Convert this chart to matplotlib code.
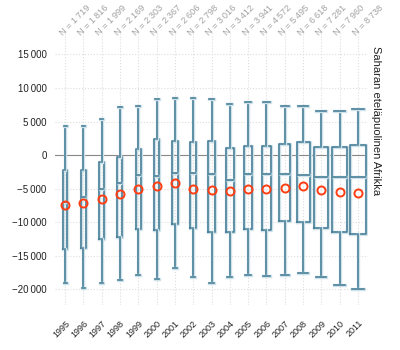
import numpy as np
import matplotlib.pyplot as plt
import matplotlib.patheffects as pe
from matplotlib.ticker import FuncFormatter

plt.rcParams['font.family'] = ['Liberation Sans', 'DejaVu Sans']

years = [1995, 1996, 1997, 1998, 1999, 2000, 2001, 2002, 2003,
         2004, 2005, 2006, 2007, 2008, 2009, 2010, 2011]
n_obs = [1719, 1816, 1999, 2169, 2303, 2367, 2606, 2798, 3016,
         3412, 3941, 4572, 5495, 6618, 7281, 7960, 8738]
whis_hi = [4300, 4300, 5400, 7100, 7300, 8350, 8450, 8500, 8300,
           7650, 7950, 7950, 7300, 7300, 6600, 6600, 6800]
q3 = [-2240, -2240, -1100, -250, 850, 2340, 2090, 2000, 2090,
      1090, 1390, 1390, 1640, 2000, 1240, 1240, 1490]
medians = [-7000, -6200, -5000, -4200, -3000, -3130, -2600, -2700, -2880,
           -3780, -2830, -2830, -2830, -3000, -3230, -3230, -3230]
means = [-7460, -7200, -6550, -5800, -5100, -4600, -4100, -5100, -5200,
         -5360, -5000, -5100, -4870, -4670, -5170, -5500, -5660]
q1 = [-14000, -13900, -12500, -12150, -11000, -11200, -10200, -10800, -11500,
      -11400, -11000, -11200, -9800, -10000, -10800, -11400, -11700]
whis_lo = [-19000, -19800, -19000, -18600, -17900, -18400, -16800, -18100, -19100,
           -18100, -17900, -18000, -17800, -17500, -18100, -19400, -19900]
region = 'Saharan eteläpuolinen Afrikka'

box_color = '#4a8199'
halo = [pe.Stroke(linewidth=2.4, foreground='#cfe1e9'), pe.Normal()]

fig = plt.figure(figsize=(4, 3.5), dpi=100)
ax = fig.add_axes([0.1375, 0.129, 0.7825, 0.777])

pos = np.arange(len(years))
stats = []
for i in range(len(years)):
    stats.append(dict(whislo=whis_lo[i], q1=q1[i], med=medians[i], q3=q3[i],
                      whishi=whis_hi[i], mean=means[i], fliers=[]))
widths = 0.9 * (np.array(n_obs) / max(n_obs)) ** 0.85
capw = widths * 0.72

ax.axhline(0, color='#888888', lw=0.8, zorder=1)
bp = ax.bxp(stats, positions=pos, widths=widths, capwidths=capw, showmeans=True,
            showfliers=False, patch_artist=False,
            boxprops=dict(color=box_color, lw=1.2),
            medianprops=dict(color=box_color, lw=1.2),
            whiskerprops=dict(color=box_color, lw=1.2),
            capprops=dict(color=box_color, lw=1.2),
            meanprops=dict(marker='o', markerfacecolor='none', markeredgecolor='#ff3d12',
                           markeredgewidth=1.4, markersize=5.8))
for key in ['boxes', 'medians', 'whiskers', 'caps']:
    for art in bp[key]:
        art.set_path_effects(halo)
        art.set_zorder(3)
for art in bp['means']:
    art.set_zorder(4)

ax.set_xlim(-0.55, len(years) - 0.45)
ax.set_ylim(-22300, 18200)
ax.set_yticks(np.arange(-20000, 15001, 5000))
ax.yaxis.set_major_formatter(FuncFormatter(
    lambda v, p: ('\u2212' if v < 0 else '') + f'{abs(int(v)):,}'.replace(',', '\u2009')))
ax.set_xticks(pos)
ax.set_xticklabels([str(y) for y in years], rotation=45, ha='right',
                   rotation_mode='anchor', fontsize=6.5, color='#222222')
ax.tick_params(axis='y', labelsize=7, colors='#222222', length=0, pad=6)
ax.tick_params(axis='x', length=0, pad=10)
ax.grid(True, color='#dddddd', linestyle=':', lw=0.8, zorder=0)
ax.set_axisbelow(True)
for s in ax.spines.values():
    s.set_visible(False)

for i, n in enumerate(n_obs):
    label = 'N = ' + f'{n:,}'.replace(',', '\u2009')
    ax.text(pos[i] - 0.05, 0.985, label, transform=ax.get_xaxis_transform(),
            rotation=45, ha='left', va='bottom', rotation_mode='anchor',
            fontsize=6.6, color='#a0a0a0')

ax.text(1.01, 0.95, region, transform=ax.transAxes, rotation=-90,
        ha='left', va='top', fontsize=8, color='#222222')

fig.savefig('out.png', dpi=100)
